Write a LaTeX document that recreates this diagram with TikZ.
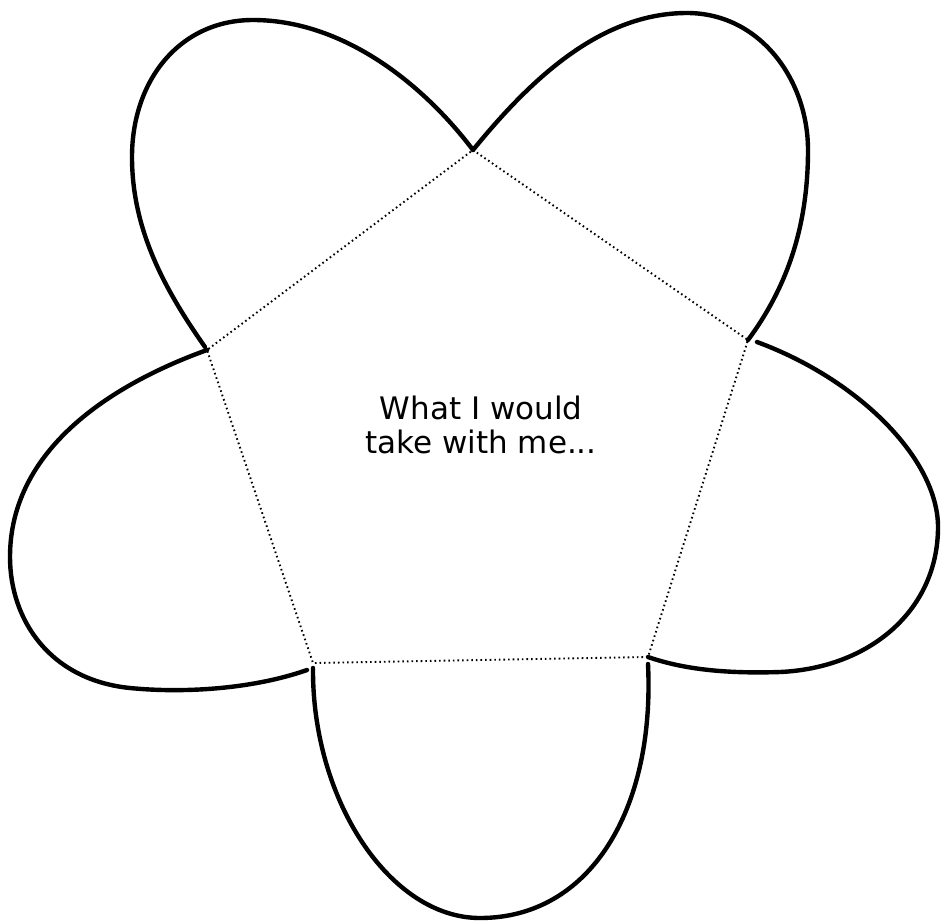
\documentclass[tikz,border=0pt]{standalone}
\usepackage{fontspec}
\setmainfont{DejaVu Sans}
\begin{document}
\begin{tikzpicture}[x=1pt,y=-1pt,
  petal/.style={line width=4.4pt,line cap=round,line join=round},
  fold/.style={line width=1.9pt,dash pattern=on 1.6pt off 3pt}]
\useasboundingbox[fill=white] (0,0) rectangle (942,922);
\coordinate (T) at (473,150);
\coordinate (R) at (748,340);
\coordinate (R2) at (757,342);
\coordinate (BR) at (648,657);
\coordinate (BR2) at (648,664);
\coordinate (BL) at (313,668);
\coordinate (BL2) at (307,670);
\coordinate (BLf) at (313,663);
\coordinate (L) at (207,350);
\coordinate (Lp) at (205,347);
% fold lines
\draw[fold] (T) -- (R) -- (BR) -- (BLf) -- (L) -- cycle;
% petals
\draw[petal] (Lp) .. controls (165,290) and (132,230) .. (132,157)
  .. controls (132,80) and (180,20) .. (253,20)
  .. controls (340,20) and (420,80) .. (T);
\draw[petal] (T) .. controls (530,80) and (600,13) .. (687,13)
  .. controls (760,13) and (808,80) .. (808,150)
  .. controls (808,230) and (785,290) .. (R);
\draw[petal] (R2) .. controls (860,380) and (938,460) .. (938,527)
  .. controls (938,610) and (870,668) .. (780,672)
  .. controls (720,674) and (680,668) .. (BR);
\draw[petal] (BR2) .. controls (655,810) and (590,918) .. (480,918)
  .. controls (390,918) and (312,800) .. (BL);
\draw[petal] (BL2) .. controls (250,690) and (180,693) .. (130,688)
  .. controls (50,680) and (10,620) .. (10,557)
  .. controls (10,450) and (110,385) .. (L);
\node[align=center,font=\fontsize{31}{34}\selectfont,inner sep=0pt] (txt) at (481,425) {What I would\\take with me...};
\end{tikzpicture}
\end{document}
